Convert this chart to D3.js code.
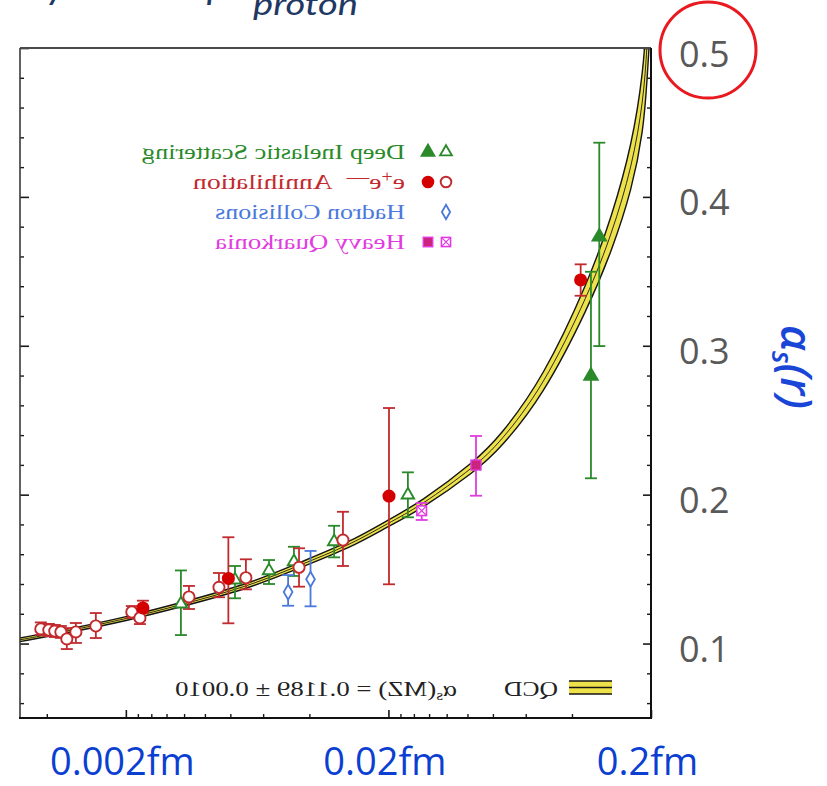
<!DOCTYPE html>
<html>
<head>
<meta charset="utf-8">
<script src="https://cdn.jsdelivr.net/npm/d3@7"></script>
<style>
  html, body { margin: 0; padding: 0; background: #fff; }
  svg { display: block; }
</style>
</head>
<body>
<svg id="chart" width="827" height="786"></svg>
<script>
// Running strong coupling alpha_s versus momentum transfer Q [GeV];
// the horizontal axis is shown as distance r ~ 0.2 fm / Q (small r on the left).
// Each measurement: [Q, alpha_s, lower end of error bar, upper end of error bar]

// Deep inelastic scattering
const disOpen = [
  [61.7, 0.1266, 0.1057, 0.1491],
  [38.4, 0.1427, 0.1304, 0.1521],
  [28.5, 0.1489, 0.1400, 0.1561],
  [22.9, 0.1550, 0.1454, 0.1650],
  [16.1, 0.1684, 0.1579, 0.1791],
  [8.43, 0.1998, 0.1848, 0.2150]
];
const disFilled = [
  [1.574, 0.3732, 0.2998, 0.4364],
  [1.693, 0.2797, 0.2110, 0.3497]
];

// e+e- annihilation
const eeOpen = [
  [210.8, 0.1098, 0.1057, 0.1142],
  [196.5, 0.1091, 0.1050, 0.1132],
  [186.5, 0.1084, 0.1044, 0.1125],
  [176.8, 0.1078, 0.1038, 0.1118],
  [167.8, 0.1031, 0.0963, 0.1104],
  [155.0, 0.1078, 0.1004, 0.1138],
  [130.1, 0.1118, 0.1037, 0.1205],
  [94.9,  0.1212, 0.1172, 0.1252],
  [88.4,  0.1172, 0.1131, 0.1232],
  [57.5,  0.1313, 0.1232, 0.1387],
  [44.2,  0.1378, 0.1311, 0.1474],
  [34.9,  0.1442, 0.1364, 0.1566],
  [21.9,  0.1512, 0.1382, 0.1640],
  [14.9,  0.1695, 0.1521, 0.1885]
];
const eeFilled = [
  [86.1,  0.1239, 0.1205, 0.1288],
  [40.7,  0.1437, 0.1136, 0.1714],
  [9.95,  0.1991, 0.1398, 0.2582],
  [1.853, 0.3442, 0.3336, 0.3547]
];

// Hadron collisions
const hadronOpen = [
  [24.1, 0.1346, 0.1254, 0.1460],
  [19.8, 0.1432, 0.1250, 0.1622]
];

// Heavy quarkonia
const quarkoniaOpen = [
  [7.47, 0.1892, 0.1830, 0.1944]
];
const quarkoniaFilled = [
  [4.64, 0.2199, 0.1993, 0.2394]
];

// QCD prediction band: central value and half width
const bandQ    = [253,    160,    100,    62,     33.7,   21.8,   14.0,   10,    7.6,    4.64,   3.76,   2.58,   1.722,  1.408,  1.181,  1.068,  1.036,  1.0];
const bandMid  = [0.1025, 0.1090, 0.1165, 0.1259, 0.1387, 0.1527, 0.1662, 0.181, 0.192,  0.2195, 0.2350, 0.2720, 0.3354, 0.3757, 0.420,  0.465,  0.500,  0.550];
const bandHalf = [0.0012, 0.0012, 0.0013, 0.0014, 0.0016, 0.0018, 0.0020, 0.0022, 0.0025, 0.0035, 0.0042, 0.0060, 0.0088, 0.0115, 0.0150, 0.0200, 0.0230, 0.0280];

// Axis ticks and labels
const yMajorTicks = [0.1, 0.2, 0.3, 0.4, 0.5];
const yTickLabels = ["0.1", "0.2", "0.3", "0.4", "0.5"];
const yMinorTicks = [0.06, 0.08, 0.12, 0.14, 0.16, 0.18, 0.22, 0.24, 0.26, 0.28,
                     0.32, 0.34, 0.36, 0.38, 0.42, 0.44, 0.46, 0.48];
const xMajorTicks = [100, 10, 1];
const xTickLabels = ["0.002fm", "0.02fm", "0.2fm"];
const xMinorTicks = [200, 90, 80, 70, 60, 50, 40, 30, 20, 9, 8, 7, 6, 5, 4, 3, 2];

// Legend text
const legendLabels = ["Deep Inelastic Scattering", "e+e— Annihilation", "Hadron Collisions", "Heavy Quarkonia"];
const qcdLabel = "QCD";
const qcdFit = "0.1189 ± 0.0010";

// ---------------------------------------------------------------------------
const W = 827, H = 786;
const plot = { left: 20, right: 651, top: 48, bottom: 718 };

const colors = {
  dis: "#2a8a2a",
  ee: "#c22a2e",
  eeFill: "#d40000",
  hadron: "#4a78dc",
  quark: "#e03ce0",
  quarkFill: "#cc2280",
  band: "#eee24a",
  yLabel: "#595959",
  xLabel: "#0b3fd2",
  title: "#1f3864"
};

const x = d3.scaleLog().domain([253, 1]).range([plot.left, plot.right]);
const y = d3.scaleLinear().domain([0.05, 0.5]).range([plot.bottom, plot.top]);

const svg = d3.select("#chart");
svg.append("rect").attr("width", W).attr("height", H).attr("fill", "#fff");

svg.append("defs").append("clipPath").attr("id", "plotClip")
  .append("rect")
  .attr("x", plot.left).attr("y", plot.top)
  .attr("width", plot.right - plot.left).attr("height", plot.bottom - plot.top);

// ---- QCD band ----
const band = bandQ.map((q, i) => ({ q, mid: bandMid[i], lo: bandMid[i] - bandHalf[i], hi: bandMid[i] + bandHalf[i] }));
const gBand = svg.append("g").attr("clip-path", "url(#plotClip)");
gBand.append("path").datum(band)
  .attr("d", d3.area().x(d => x(d.q)).y0(d => y(d.lo)).y1(d => y(d.hi)).curve(d3.curveBasis))
  .attr("fill", colors.band);
["lo", "mid", "hi"].forEach(k => {
  gBand.append("path").datum(band)
    .attr("d", d3.line().x(d => x(d.q)).y(d => y(d[k])).curve(d3.curveBasis))
    .attr("fill", "none")
    .attr("stroke", "#151515")
    .attr("stroke-width", k === "mid" ? 0.9 : 1.4);
});

// ---- axes ----
function styleTicks(g, width) {
  g.select(".domain").remove();
  g.selectAll(".tick line").attr("stroke", "#1a1a1a").attr("stroke-width", width);
}

// right axis with value labels, ticks pointing inward
const gRight = svg.append("g").attr("transform", `translate(${plot.right},0)`)
  .call(d3.axisRight(y).tickValues(yMajorTicks).tickFormat((d, i) => yTickLabels[i])
    .tickSizeInner(-8).tickSizeOuter(0).tickPadding(28));
styleTicks(gRight, 1.6);
gRight.selectAll(".tick text")
  .attr("font-family", "'Open Sans', sans-serif").attr("font-size", 36)
  .attr("fill", colors.yLabel).attr("dy", "0.5em");
svg.append("g").attr("transform", `translate(${plot.right},0)`)
  .call(d3.axisRight(y).tickValues(yMinorTicks).tickFormat("").tickSizeInner(-4).tickSizeOuter(0))
  .call(g => styleTicks(g, 1.4));

// left axis, ticks only
svg.append("g").attr("transform", `translate(${plot.left},0)`)
  .call(d3.axisLeft(y).tickValues(yMajorTicks).tickFormat("").tickSizeInner(-9).tickSizeOuter(0))
  .call(g => styleTicks(g, 1.6));
svg.append("g").attr("transform", `translate(${plot.left},0)`)
  .call(d3.axisLeft(y).tickValues(yMinorTicks).tickFormat("").tickSizeInner(-4).tickSizeOuter(0))
  .call(g => styleTicks(g, 1.4));

// bottom axis with distance labels
const gBottom = svg.append("g").attr("transform", `translate(0,${plot.bottom})`)
  .call(d3.axisBottom(x).tickValues(xMajorTicks).tickFormat((d, i) => xTickLabels[i])
    .tickSizeInner(-8).tickSizeOuter(0).tickPadding(30));
styleTicks(gBottom, 1.6);
gBottom.selectAll(".tick text")
  .attr("font-family", "'Open Sans', sans-serif").attr("font-size", 38)
  .attr("fill", colors.xLabel).attr("dx", -4);
svg.append("g").attr("transform", `translate(0,${plot.bottom})`)
  .call(d3.axisBottom(x).tickValues(xMinorTicks).tickFormat("").tickSizeInner(-4).tickSizeOuter(0))
  .call(g => styleTicks(g, 1.4));

// frame
svg.append("line").attr("x1", plot.left).attr("x2", plot.right).attr("y1", plot.top).attr("y2", plot.top)
  .attr("stroke", "#4a4a4a").attr("stroke-width", 1.8);
svg.append("line").attr("x1", plot.left).attr("x2", plot.left).attr("y1", plot.top).attr("y2", plot.bottom)
  .attr("stroke", "#3a3a3a").attr("stroke-width", 1.6);
svg.append("line").attr("x1", plot.right).attr("x2", plot.right).attr("y1", plot.top).attr("y2", plot.bottom + 1)
  .attr("stroke", "#111").attr("stroke-width", 2);
svg.append("line").attr("x1", plot.left - 1).attr("x2", plot.right + 1).attr("y1", plot.bottom).attr("y2", plot.bottom)
  .attr("stroke", "#111").attr("stroke-width", 2.2);

// ---- measurements ----
const series = [
  { data: disOpen, color: colors.dis, marker: "triOpen" },
  { data: disFilled, color: colors.dis, marker: "triFilled" },
  { data: eeOpen, color: colors.ee, marker: "circOpen" },
  { data: eeFilled, color: colors.ee, marker: "circFilled" },
  { data: hadronOpen, color: colors.hadron, marker: "diamond" },
  { data: quarkoniaOpen, color: colors.quark, marker: "sqX" },
  { data: quarkoniaFilled, color: colors.quark, marker: "sqFilled" }
];

const gData = svg.append("g").attr("clip-path", "url(#plotClip)");
const cap = 6;
series.forEach(s => {
  const g = gData.append("g").attr("stroke", s.color).attr("stroke-width", 1.8).attr("fill", "none");
  const bars = g.selectAll(null).data(s.data).enter().append("g");
  bars.append("line").attr("x1", d => x(d[0])).attr("x2", d => x(d[0])).attr("y1", d => y(d[2])).attr("y2", d => y(d[3]));
  bars.append("line").attr("x1", d => x(d[0]) - cap).attr("x2", d => x(d[0]) + cap).attr("y1", d => y(d[2])).attr("y2", d => y(d[2]));
  bars.append("line").attr("x1", d => x(d[0]) - cap).attr("x2", d => x(d[0]) + cap).attr("y1", d => y(d[3])).attr("y2", d => y(d[3]));
});

function drawMarker(g, kind, color, cx, cy, scale) {
  const k = scale || 1;
  if (kind === "triOpen" || kind === "triFilled") {
    g.append("path").attr("d", d3.symbol().type(d3.symbolTriangle).size((kind === "triFilled" ? 78 : 66) * k * k)())
      .attr("transform", `translate(${cx},${cy})`)
      .attr("fill", kind === "triFilled" ? color : "#fff")
      .attr("stroke", color).attr("stroke-width", 1.9);
  } else if (kind === "circOpen" || kind === "circFilled") {
    g.append("circle").attr("cx", cx).attr("cy", cy).attr("r", 5.6 * k)
      .attr("fill", kind === "circFilled" ? colors.eeFill : "#fff")
      .attr("stroke", kind === "circFilled" ? colors.eeFill : color).attr("stroke-width", 1.9);
  } else if (kind === "diamond") {
    g.append("path").attr("d", d3.symbol().type(d3.symbolDiamond).size(66 * k * k)())
      .attr("transform", `translate(${cx},${cy})`)
      .attr("fill", "#fff").attr("stroke", color).attr("stroke-width", 1.8);
  } else if (kind === "sqX") {
    const h = 4.8 * k;
    g.append("rect").attr("x", cx - h).attr("y", cy - h).attr("width", 2 * h).attr("height", 2 * h)
      .attr("fill", "#fff").attr("stroke", color).attr("stroke-width", 1.6);
    g.append("path").attr("d", `M${cx - h},${cy - h}L${cx + h},${cy + h}M${cx + h},${cy - h}L${cx - h},${cy + h}`)
      .attr("stroke", color).attr("stroke-width", 1.2);
  } else if (kind === "sqFilled") {
    const h = 5 * k;
    g.append("rect").attr("x", cx - h).attr("y", cy - h).attr("width", 2 * h).attr("height", 2 * h)
      .attr("fill", colors.quarkFill).attr("stroke", color).attr("stroke-width", 1.4);
  }
}

series.forEach(s => {
  const g = gData.append("g");
  s.data.forEach(d => drawMarker(g, s.marker, s.color, x(d[0]), y(d[1])));
});

// ---- legend (mirrored serif text) ----
function mirroredText(xRight, baseline, width, color, size) {
  return svg.append("text")
    .attr("transform", `translate(${xRight},${baseline}) scale(-1,1)`)
    .attr("x", 0).attr("y", 0)
    .attr("font-family", "'Liberation Serif', 'Times New Roman', serif")
    .attr("font-size", size || 22)
    .attr("fill", color)
    .attr("textLength", width)
    .attr("lengthAdjust", "spacingAndGlyphs");
}

const legendTop = 159, legendGap = 30, legendTextRight = 405;
const legendRows = [
  { color: colors.dis, markers: ["triFilled", "triOpen"], width: 263 },
  { color: colors.ee, markers: ["circFilled", "circOpen"], width: 212 },
  { color: colors.hadron, markers: [null, "diamond"], width: 190 },
  { color: colors.quark, markers: ["sqFilled", "sqX"], width: 190 }
];
const gLegend = svg.append("g");
legendRows.forEach((row, i) => {
  const base = legendTop + i * legendGap;
  const t = mirroredText(legendTextRight, base, row.width, row.color);
  if (i === 1) {
    t.append("tspan").text("e");
    t.append("tspan").attr("dy", -7).attr("font-size", 16).text("+");
    t.append("tspan").attr("dy", 7).text("e");
    t.append("tspan").attr("dy", -6).attr("font-size", 18).text("—");
    t.append("tspan").attr("dy", 6).text("\u00a0\u00a0Annihilation");
  } else {
    t.text(legendLabels[i]);
  }
  row.markers.forEach((m, j) => {
    if (m) drawMarker(gLegend, m, row.color, j === 0 ? 428 : 446, base - 7, 0.95);
  });
});

// QCD legend entry with its fit value
const sym = svg.append("g");
sym.append("rect").attr("x", 569).attr("y", 681).attr("width", 43).attr("height", 13).attr("fill", colors.band);
[681, 687.5, 694].forEach(v => sym.append("line").attr("x1", 569).attr("x2", 612).attr("y1", v).attr("y2", v)
  .attr("stroke", "#151515").attr("stroke-width", 1.5));
mirroredText(558, 696, 54, "#222", 22).text(qcdLabel);
const fit = mirroredText(457, 696, 282, "#222", 22);
fit.append("tspan").text("α");
fit.append("tspan").attr("dy", 4).attr("font-size", 14).text("s");
fit.append("tspan").attr("dy", -4).text("(MZ) = " + qcdFit);

// ---- vertical axis title ----
const yTitle = svg.append("text")
  .attr("transform", "translate(781,367) rotate(90)")
  .attr("text-anchor", "middle")
  .attr("font-family", "'Open Sans', sans-serif")
  .attr("font-style", "italic")
  .attr("font-weight", 600)
  .attr("font-size", 44)
  .attr("fill", "#1a46d8");
yTitle.append("tspan").text("α");
yTitle.append("tspan").attr("dy", 9).attr("font-size", 28).text("s");
yTitle.append("tspan").attr("dy", -9).text("(r)");

// ---- heading line above the chart ----
const headFont = "Lato, 'Open Sans', sans-serif";
svg.append("text").attr("x", 66).attr("y", -2).attr("text-anchor", "end")
  .attr("font-family", headFont).attr("font-style", "italic").attr("font-size", 40)
  .attr("fill", colors.title).text("Strength felt by");
svg.append("text").attr("x", 228).attr("y", -2).attr("text-anchor", "end")
  .attr("font-family", headFont).attr("font-style", "italic").attr("font-size", 40)
  .attr("fill", colors.title).text("and up");
svg.append("text").attr("x", 232).attr("y", -2)
  .attr("font-family", headFont).attr("font-style", "italic").attr("font-size", 40)
  .attr("fill", colors.title).text("r");
svg.append("text").attr("x", 253).attr("y", 15)
  .attr("font-family", headFont).attr("font-style", "italic").attr("font-size", 30)
  .attr("fill", colors.title).attr("textLength", 105).attr("lengthAdjust", "spacingAndGlyphs")
  .text("proton");

// ---- highlight ring around the top value label ----
svg.append("ellipse").attr("cx", 708).attr("cy", 50).attr("rx", 48).attr("ry", 48)
  .attr("fill", "none").attr("stroke", "#e8191f").attr("stroke-width", 3);
</script>
</body>
</html>
